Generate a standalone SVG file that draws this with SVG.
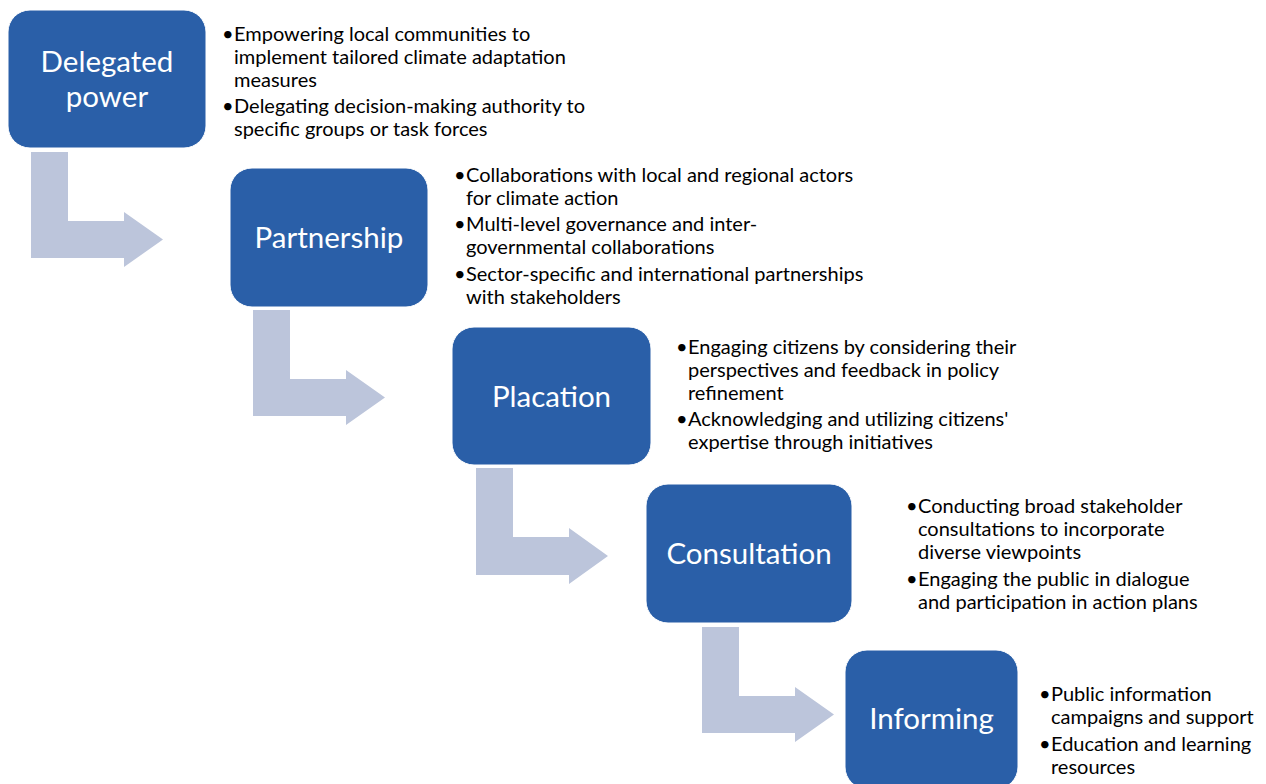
<svg xmlns="http://www.w3.org/2000/svg" width="1266" height="784" viewBox="0 0 1266 784">
<style>
.box{fill:#2A5FA8;stroke:#ffffff;stroke-width:1}
.lbl{font-family:Lato,"Liberation Sans",sans-serif;font-size:29.5px;fill:#ffffff;text-anchor:middle}
.txt{font-family:Lato,"Liberation Sans",sans-serif;font-size:20px;fill:#000000}
.arr{fill:#BCC5DB}
</style>
<rect width="1266" height="784" fill="#ffffff"/>
<g id="connectors">
<polygon class="arr" points="31,152 68,152 68,221 124,221 124,212 163,239.5 124,267 124,258 31,258"/>
<polygon class="arr" points="253,310 290,310 290,379 346,379 346,370 385,397.5 346,425 346,416 253,416"/>
<polygon class="arr" points="476,468 513,468 513,537 569,537 569,528 608,556 569,584 569,575 476,575"/>
<polygon class="arr" points="702,627 739,627 739,696 795,696 795,687 834,714.5 795,742 795,733 702,733"/>
</g>
<g id="node-delegated">
<rect class="box" x="8" y="10" width="198" height="138" rx="22"/>
<text class="lbl" x="107" y="72">Delegated</text>
<text class="lbl" x="107" y="107">power</text>
<text class="txt" x="222" y="41">•</text>
<text class="txt" x="234" y="41">Empowering local communities to</text>
<text class="txt" x="234" y="64">implement tailored climate adaptation</text>
<text class="txt" x="234" y="87">measures</text>
<text class="txt" x="222" y="113">•</text>
<text class="txt" x="234" y="113">Delegating decision-making authority to</text>
<text class="txt" x="234" y="136">specific groups or task forces</text>
</g>
<g id="node-partnership">
<rect class="box" x="230" y="168" width="198" height="139" rx="22"/>
<text class="lbl" x="329" y="248">Partnership</text>
<text class="txt" x="454" y="182">•</text>
<text class="txt" x="466" y="182">Collaborations with local and regional actors</text>
<text class="txt" x="466" y="205">for climate action</text>
<text class="txt" x="454" y="231">•</text>
<text class="txt" x="466" y="231">Multi-level governance and inter-</text>
<text class="txt" x="466" y="254">governmental collaborations</text>
<text class="txt" x="454" y="281">•</text>
<text class="txt" x="466" y="281">Sector-specific and international partnerships</text>
<text class="txt" x="466" y="304">with stakeholders</text>
</g>
<g id="node-placation">
<rect class="box" x="452" y="327" width="199" height="138" rx="22"/>
<text class="lbl" x="551.5" y="407">Placation</text>
<text class="txt" x="676" y="354">•</text>
<text class="txt" x="688" y="354">Engaging citizens by considering their</text>
<text class="txt" x="688" y="377">perspectives and feedback in policy</text>
<text class="txt" x="688" y="400">refinement</text>
<text class="txt" x="676" y="426">•</text>
<text class="txt" x="688" y="426">Acknowledging and utilizing citizens'</text>
<text class="txt" x="688" y="449">expertise through initiatives</text>
</g>
<g id="node-consultation">
<rect class="box" x="646" y="484" width="206" height="139" rx="22"/>
<text class="lbl" x="749" y="564">Consultation</text>
<text class="txt" x="906" y="513">•</text>
<text class="txt" x="918" y="513">Conducting broad stakeholder</text>
<text class="txt" x="918" y="536">consultations to incorporate</text>
<text class="txt" x="918" y="559">diverse viewpoints</text>
<text class="txt" x="906" y="586">•</text>
<text class="txt" x="918" y="586">Engaging the public in dialogue</text>
<text class="txt" x="918" y="609">and participation in action plans</text>
</g>
<g id="node-informing">
<rect class="box" x="845" y="650" width="173" height="139" rx="22"/>
<text class="lbl" x="931.5" y="729">Informing</text>
<text class="txt" x="1039" y="701">•</text>
<text class="txt" x="1051" y="701">Public information</text>
<text class="txt" x="1051" y="724">campaigns and support</text>
<text class="txt" x="1039" y="751">•</text>
<text class="txt" x="1051" y="751">Education and learning</text>
<text class="txt" x="1051" y="774">resources</text>
</g>
</svg>
